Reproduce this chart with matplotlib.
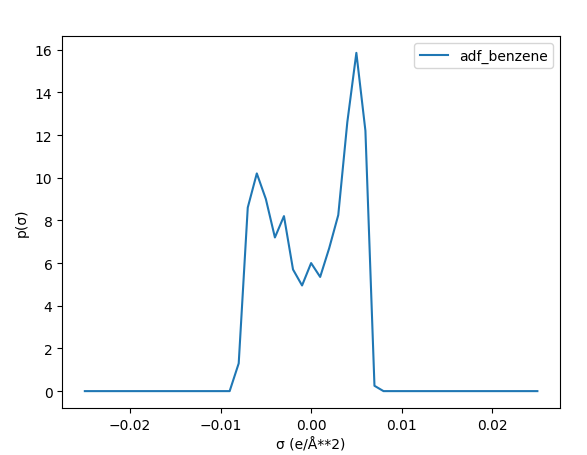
import numpy as np
import matplotlib
matplotlib.use("Agg")
import matplotlib.pyplot as plt

# sigma grid, step 0.001
sigma = np.round(np.arange(-0.025, 0.0251, 0.001), 3)

# nonzero part of the profile, from -0.009 to 0.008
core_sigma = [-0.009, -0.008, -0.007, -0.006, -0.005, -0.004, -0.003, -0.002, -0.001,
              0.000, 0.001, 0.002, 0.003, 0.004, 0.005, 0.006, 0.007, 0.008]
core_p = [0.0, 1.3, 8.6, 10.2, 9.0, 7.2, 8.2, 5.7, 4.95,
          6.0, 5.35, 6.7, 8.25, 12.6, 15.85, 12.2, 0.25, 0.0]

p = np.zeros_like(sigma)
for s, v in zip(core_sigma, core_p):
    p[np.isclose(sigma, s)] = v

fig = plt.figure(figsize=(5.87, 4.56), dpi=100)
plt.plot(sigma, p, label="adf_benzene")
plt.xlabel("σ (e/Å**2)")
plt.ylabel("p(σ)")
plt.legend()
plt.subplots_adjust(left=0.106, right=0.954, bottom=0.103, top=0.919)
plt.savefig("out.png")
plt.close()
